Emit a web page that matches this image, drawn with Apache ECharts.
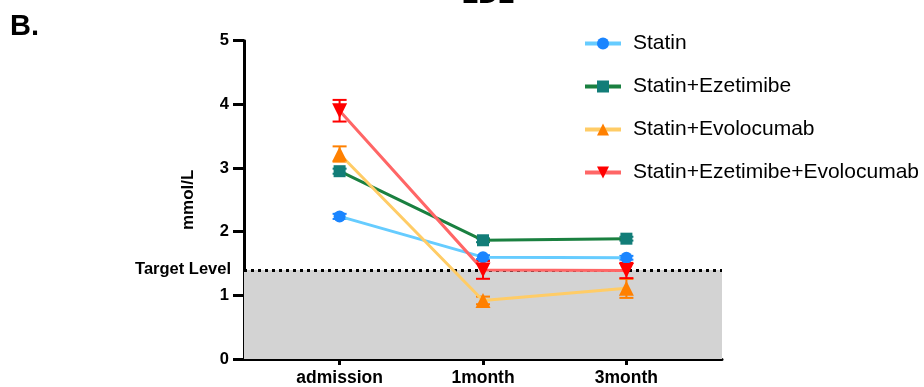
<!DOCTYPE html>
<html>
<head>
<meta charset="utf-8">
<title>LDL</title>
<script src="https://cdn.jsdelivr.net/npm/echarts@6/dist/echarts.min.js"></script>
<style>
  html, body { margin: 0; padding: 0; background: #fff; }
  #chart { width: 924px; height: 387px; }
</style>
</head>
<body>
<div id="chart"></div>
<script>
// Time points and LDL means (mmol/L) with error half-widths
const timePoints = ['admission', '1month', '3month'];
const groupNames = ['Statin', 'Statin+Ezetimibe', 'Statin+Evolocumab', 'Statin+Ezetimibe+Evolocumab'];

const statinMean = [2.24, 1.60, 1.59];
const statinErr = [0.04, 0.03, 0.03];
const ezetimibeMean = [2.95, 1.865, 1.89];
const ezetimibeErr = [0.04, 0.03, 0.03];
const evolocumabMean = [3.22, 0.92, 1.11];
const evolocumabErr = [0.12, 0.06, 0.15];
const comboMean = [3.90, 1.40, 1.39];
const comboErr = [0.17, 0.14, 0.12];

const targetLevel = 1.4;
const yTicks = [0, 1, 2, 3, 4, 5];

const lineColors = ['#66ccff', '#1a8040', '#ffcc66', '#ff6666'];
const markerColors = ['#1a85ff', '#127d78', '#ff8000', '#ff0000'];
const symbols = ['circle', 'rect', 'triangle', 'triangle'];
const symbolRotations = [0, 0, 0, 180];
const symbolSizes = [12, 12, 15, 15];

const means = [statinMean, ezetimibeMean, evolocumabMean, comboMean];
const errs = [statinErr, ezetimibeErr, evolocumabErr, comboErr];

const FONT = '"Liberation Sans", Arial, sans-serif';

function toPoints(values) {
  return values.map((v, i) => [i, v]);
}

const lineSeries = groupNames.map((name, k) => ({
  name: name,
  type: 'line',
  data: toPoints(means[k]),
  symbol: symbols[k],
  symbolSize: symbolSizes[k],
  symbolRotate: symbolRotations[k],
  lineStyle: { color: lineColors[k], width: 3 },
  itemStyle: { color: markerColors[k] },
  z: 5 + k
}));

const errorSeries = groupNames.map((name, k) => ({
  name: name + ' SEM',
  type: 'custom',
  z: 4,
  data: means[k].map((v, i) => [i, v, errs[k][i]]),
  renderItem: function (params, api) {
    const x = api.value(0), m = api.value(1), e = api.value(2);
    const top = api.coord([x, m + e]);
    const bot = api.coord([x, m - e]);
    const hw = 7;
    const style = { stroke: markerColors[k], lineWidth: 2 };
    return {
      type: 'group',
      children: [
        { type: 'line', shape: { x1: top[0], y1: top[1], x2: bot[0], y2: bot[1] }, style: style },
        { type: 'line', shape: { x1: top[0] - hw, y1: top[1], x2: top[0] + hw, y2: top[1] }, style: style },
        { type: 'line', shape: { x1: bot[0] - hw, y1: bot[1], x2: bot[0] + hw, y2: bot[1] }, style: style }
      ]
    };
  }
}));

// Target-level band and dotted threshold line
lineSeries[0].markArea = {
  silent: true,
  itemStyle: { color: '#d3d3d3' },
  data: [[{ yAxis: 0 }, { yAxis: targetLevel }]]
};
lineSeries[0].markLine = {
  silent: true,
  symbol: 'none',
  lineStyle: { color: '#000', width: 3, type: [3, 4] },
  label: {
    show: true,
    position: 'start',
    formatter: 'Target Level',
    color: '#000',
    fontFamily: FONT,
    fontWeight: 'bold',
    fontSize: 16.5,
    distance: 13
  },
  data: [{ yAxis: targetLevel }]
};

const chart = echarts.init(document.getElementById('chart'));
chart.setOption({
  animation: false,
  backgroundColor: '#fff',
  title: [
    {
      text: 'LDL',
      left: 483,
      textAlign: 'center',
      top: -23,
      textStyle: { fontFamily: FONT, fontWeight: 'bold', fontSize: 27, color: '#000' }
    },
    {
      text: 'B.',
      left: 5,
      top: 7,
      textStyle: { fontFamily: FONT, fontWeight: 'bold', fontSize: 29, color: '#000' }
    }
  ],
  legend: {
    data: groupNames,
    orient: 'vertical',
    left: 578,
    top: 28,
    itemWidth: 36,
    itemHeight: 15,
    itemGap: 22,
    lineStyle: { width: 4 },
    textStyle: { fontFamily: FONT, fontSize: 21, color: '#000', padding: [0, 0, 0, 7] }
  },
  grid: { left: 244, right: 202, top: 40.7, bottom: 27.7, containLabel: false },
  xAxis: {
    type: 'value',
    min: -2 / 3,
    max: 8 / 3,
    splitLine: { show: false },
    axisLine: { show: true, onZero: false, lineStyle: { color: '#000', width: 3 } },
    axisTick: { show: true, length: 6, lineStyle: { color: '#000', width: 3 }, customValues: [0, 1, 2] },
    axisLabel: {
      customValues: [0, 1, 2],
      formatter: v => timePoints[Math.round(v)],
      color: '#000',
      fontFamily: FONT,
      fontWeight: 'bold',
      fontSize: 17.5,
      margin: 10
    }
  },
  yAxis: {
    type: 'value',
    min: yTicks[0],
    max: yTicks[yTicks.length - 1],
    interval: 1,
    name: 'mmol/L',
    nameLocation: 'middle',
    nameRotate: 90,
    nameGap: 47,
    nameTextStyle: { fontFamily: FONT, fontWeight: 'bold', fontSize: 17, color: '#000' },
    splitLine: { show: false },
    axisLine: { show: true, onZero: false, lineStyle: { color: '#000', width: 3 } },
    axisTick: { show: true, length: 11, lineStyle: { color: '#000', width: 3 } },
    axisLabel: { color: '#000', fontFamily: FONT, fontWeight: 'bold', fontSize: 16.5, margin: 15 }
  },
  series: lineSeries.concat(errorSeries)
});
</script>
</body>
</html>
